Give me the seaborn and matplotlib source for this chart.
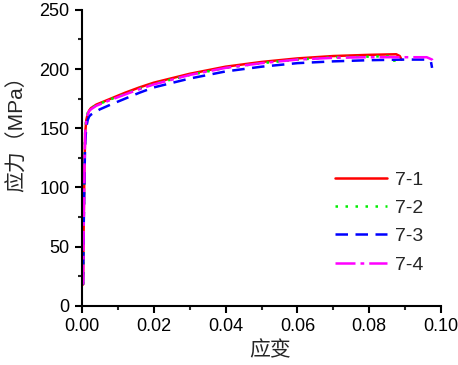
import matplotlib
matplotlib.use('Agg')
import matplotlib.pyplot as plt
import seaborn as sns
import pandas as pd
from matplotlib.ticker import MultipleLocator

labels = ['7-1', '7-2', '7-3', '7-4']

strain_71 = [0.0003, 0.0005, 0.0007, 0.0009, 0.0012, 0.0016, 0.002, 0.0025, 0.004, 0.008, 0.012, 0.016, 0.02,
             0.03, 0.04, 0.05, 0.06, 0.07, 0.08, 0.0875, 0.0885, 0.089]
stress_71 = [18, 75, 120, 146, 157, 162, 165, 167, 170, 175, 180, 184.5, 188.5, 196, 202, 206, 209, 211, 212, 212.5, 211, 208]

strain_72 = [0.0003, 0.0005, 0.0007, 0.0009, 0.0012, 0.0016, 0.002, 0.0025, 0.004, 0.008, 0.012, 0.016, 0.02,
             0.03, 0.04, 0.05, 0.06, 0.07, 0.08, 0.0865, 0.087, 0.0872]
stress_72 = [18, 78, 124, 148, 158, 163, 165.5, 167, 169.5, 174.5, 179, 183.5, 187.5, 195, 201, 205, 208, 210, 210.5, 211, 207, 202]

strain_73 = [0.0003, 0.0005, 0.0007, 0.0009, 0.0012, 0.0016, 0.002, 0.0025, 0.003, 0.005, 0.008, 0.012, 0.016, 0.02,
             0.03, 0.04, 0.05, 0.06, 0.07, 0.08, 0.09, 0.096, 0.0972, 0.0975]
stress_73 = [18, 70, 112, 138, 151, 157, 160, 161.5, 162.5, 166, 170, 175, 180, 184.5, 192, 198, 202, 205, 206.5, 207.5, 208, 208, 206, 201]

strain_74 = [0.0003, 0.0005, 0.0007, 0.0009, 0.0012, 0.0016, 0.002, 0.0025, 0.004, 0.008, 0.012, 0.016, 0.02,
             0.03, 0.04, 0.05, 0.06, 0.07, 0.08, 0.09, 0.096, 0.0975, 0.098]
stress_74 = [18, 75, 120, 146, 157, 162, 164.5, 166, 169, 174, 178.5, 183, 187, 195, 201, 205, 208, 209.5, 210, 210, 210, 208, 205]

strains = [strain_71, strain_72, strain_73, strain_74]
stresses = [stress_71, stress_72, stress_73, stress_74]

colors = ['#ff0000', '#00ee00', '#0000ff', '#ff00ff']
dashes = ['-', (0, (1, 3)), (0, (5, 3)), (0, (8, 2, 1.5, 2))]

sns.set_style('ticks')
plt.rcParams['font.family'] = ['Liberation Sans', 'Noto Sans CJK SC']

fig = plt.figure(figsize=(4.58, 3.65), dpi=100)
ax = fig.add_axes([0.179, 0.162, 0.784, 0.811])

for lab, x, y, c, ls in zip(labels, strains, stresses, colors, dashes):
    df = pd.DataFrame({'strain': x, 'stress': y})
    sns.lineplot(data=df, x='strain', y='stress', ax=ax, color=c, lw=1.8,
                 linestyle=ls, label=lab, sort=False, estimator=None)

ax.set_xlim(0, 0.1)
ax.set_ylim(0, 250)
ax.xaxis.set_major_locator(MultipleLocator(0.02))
ax.xaxis.set_minor_locator(MultipleLocator(0.01))
ax.yaxis.set_major_locator(MultipleLocator(50))
ax.yaxis.set_minor_locator(MultipleLocator(25))
ax.xaxis.set_major_formatter(matplotlib.ticker.FormatStrFormatter('%.2f'))
ax.tick_params(which='major', direction='out', length=5, width=1.5, labelsize=13, colors='black', pad=4)
ax.tick_params(which='minor', direction='out', length=3, width=1.5)
for s in ['left', 'bottom']:
    ax.spines[s].set_linewidth(1.5)
    ax.spines[s].set_color('black')
sns.despine(ax=ax)

ax.set_xlabel('应变', fontsize=15)
ax.set_ylabel('应力（MPa）', fontsize=15)
ax.xaxis.set_label_coords(0.524, -0.118)
ax.yaxis.set_label_coords(-0.152, 0.598)

leg = ax.legend(loc='lower right', bbox_to_anchor=(1.0, 0.05), frameon=False, fontsize=14,
                handlelength=2.7, labelspacing=0.55, handletextpad=0.4)

fig.savefig('out.png', dpi=100)
